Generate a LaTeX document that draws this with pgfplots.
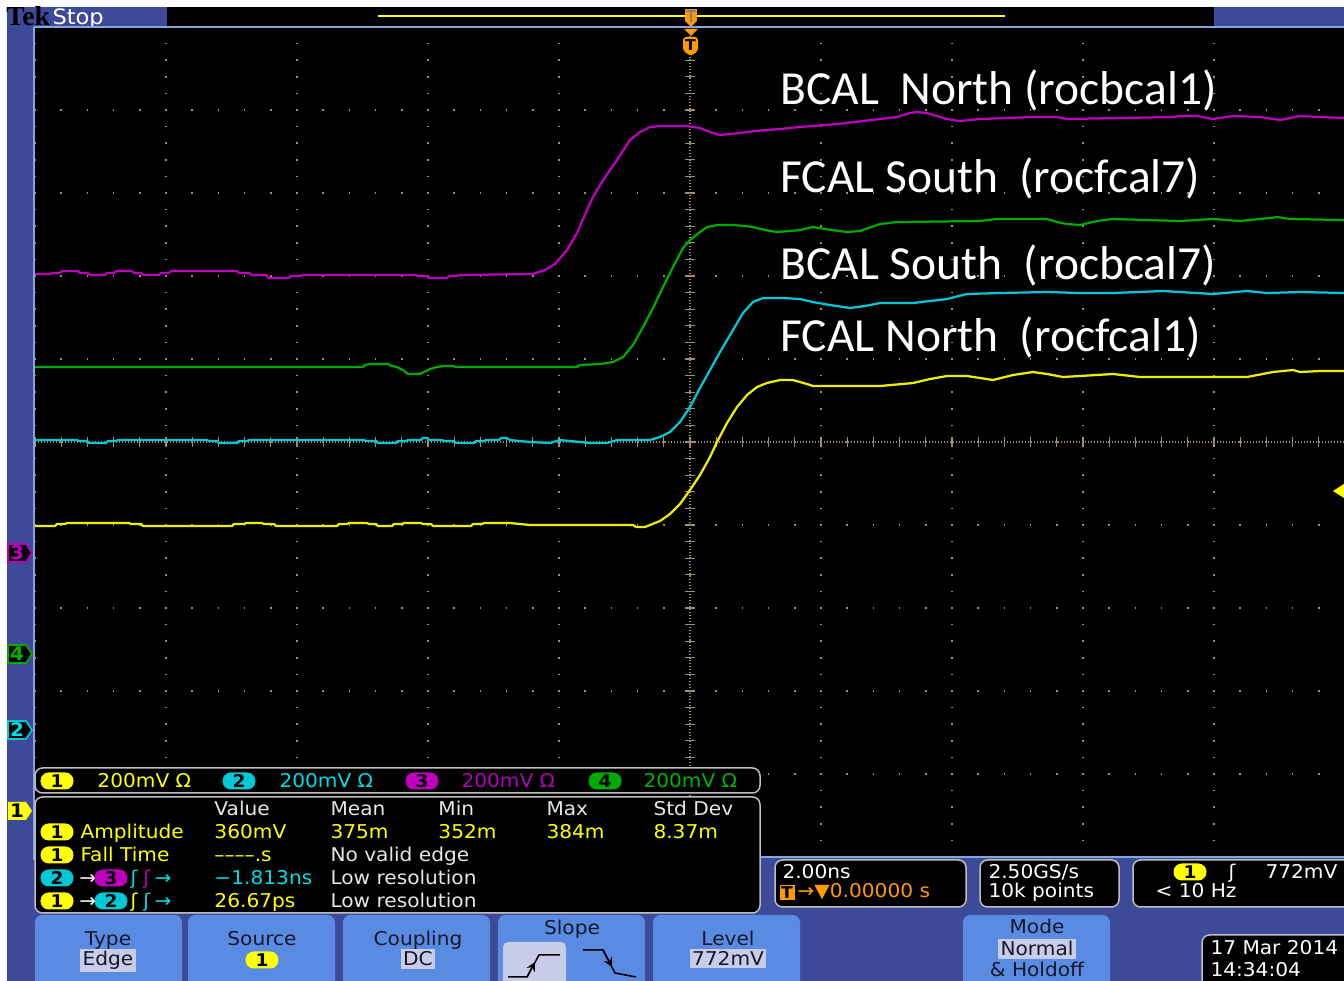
\documentclass[border=0pt]{standalone}
\usepackage{pgfplots}
\pgfplotsset{compat=1.18}
\usepackage{fontspec}
\newfontfamily\tekf[FakeStretch=1.06]{DejaVu Sans}
\newfontfamily\calf{Carlito}
\newfontfamily\serf{Liberation Serif}
\definecolor{tekblue}{HTML}{3D4A9A}
\definecolor{framelb}{HTML}{86A6DA}
\definecolor{btnblue}{HTML}{5A8BE2}
\definecolor{btnhi}{HTML}{C8CCE8}
\definecolor{btntxt}{HTML}{15182A}
\definecolor{ch1}{HTML}{EEEE00}
\definecolor{ch2}{HTML}{00C8D7}
\definecolor{ch3}{HTML}{BE00BE}
\definecolor{ch4}{HTML}{00AA00}
\definecolor{ch1t}{HTML}{FFFF00}
\definecolor{ch2t}{HTML}{00DCE6}
\definecolor{ch3t}{HTML}{B400B4}
\definecolor{ch4t}{HTML}{00B400}
\definecolor{gridc}{HTML}{9C9070}
\definecolor{tekorange}{HTML}{FF9A00}
\definecolor{hdr}{HTML}{E6E6E6}
\definecolor{panelgray}{HTML}{BEBEBE}
\tikzset{
 tt/.style={anchor=base west, inner sep=0pt, font=\tekf\fontsize{7.6}{9}\selectfont},
 tc/.style={anchor=base, inner sep=0pt, font=\tekf\fontsize{7.6}{9}\selectfont, text=btntxt},
 badge/.style={fill=#1, rounded corners=3.3pt, minimum width=13.2pt, minimum height=6.8pt, inner sep=0pt, text=black, font=\tekf\bfseries\fontsize{7}{8}\selectfont},
 panel/.style={fill=black, draw=panelgray, line width=0.6pt, rounded corners=3pt},
 btn/.style={fill=btnblue, rounded corners=3pt},
 hi/.style={tc, fill=btnhi, inner xsep=1pt, inner ysep=1pt},
 lbl/.style={anchor=base west, inner sep=0pt, text=white, font=\calf\fontsize{19}{21}\selectfont},
}
\begin{document}
\begin{tikzpicture}
\useasboundingbox (0,0) rectangle (537.6pt,-392.4pt);
\clip (0,0) rectangle (537.6pt,-392.4pt);
\begin{scope}[x=0.4pt,y=-0.4pt]
 \fill[white] (0,0) rectangle (1344,981);
 \fill[tekblue] (7,7) rectangle (1344,981);
 % top bar
 \fill[black] (167,7) rectangle (1214,26);
 \draw[ch1t, line width=0.7pt] (378,16) -- (1005,16);
 \node[anchor=base west, inner sep=0pt, font=\serf\bfseries\fontsize{11}{12}\selectfont, text=black] at (6,26) {Tek};
 \node[anchor=base west, inner sep=0pt, font=\tekf\fontsize{8.5}{10}\selectfont, text=white] at (52,25) {Stop};
 \fill[tekorange] (685,9) rectangle (697,21);
 \fill[tekorange] (685,21) -- (697,21) -- (691,27) -- cycle;
 \draw[gray, line width=0.8pt] (691,11) -- (691,22);
 \draw[gray, line width=0.8pt] (686,11) -- (696,11);
 % graticule background
 \fill[black] (35,27) rectangle (1345,857);
 \draw[gridc, line width=0.6pt, dash pattern=on 0.5pt off 0.7pt] (690,27) -- (690,857);
 \draw[gridc, line width=0.6pt, dash pattern=on 0.5pt off 0.7pt] (35,442) -- (1345,442);
 \foreach \k in {0,...,50} { \draw[gridc, line width=0.5pt] (685,27+16.6*\k) -- (695,27+16.6*\k); }
 \foreach \k in {0,...,50} { \draw[gridc, line width=0.5pt] (35+26.2*\k,437) -- (35+26.2*\k,447); }
\end{scope}
\begin{axis}[
 at={(14pt,-342.8pt)}, anchor=south west,
 scale only axis, width=524pt, height=332pt,
 xmin=35, xmax=1345, ymin=27, ymax=857, y dir=reverse,
 axis line style={draw=none},
 xtick={35,166,...,1345}, ytick={27,110,...,857},
 xticklabels={}, yticklabels={},
 tick style={draw=none}, major tick length=0pt,
 grid=major,
 major x grid style={gridc, line width=0.7pt, dash pattern=on 0.7pt off 5.94pt, dash phase=0.35pt},
 major y grid style={gridc, line width=0.7pt, dash pattern=on 0.7pt off 9.78pt, dash phase=0.35pt},
 every axis plot/.append style={line width=0.9pt, line join=round},
 clip=true,
]
% Channel 3 (magenta) - BCAL North
\addplot[ch3] coordinates {
(35,274) (50,274) (52,273) (60,273) (62,271) (78,271) (80,273) (88,273) (90,275) (105,275) (107,273) (114,273) (116,271) (132,271) (134,273) (141,273) (143,275) (159,275) (161,273) (169,273) (171,271) (237,271) (239,273) (249,273) (252,275) (266,275) (269,278) (289,278) (291,276) (301,276) (303,275) (416,275) (418,276) (427,276) (429,278) (447,278) (449,276) (457,276) (459,275) (533,274) (545,270) (555,264) (567,250) (577,233) (587,210) (593,197) (600,185) (610,170) (617,160) (630,140) (640,132) (650,127) (660,126) (687,126) (700,128) (710,132) (720,135) (730,134) (740,133) (755,131) (767,130) (780,129) (800,127) (837,124) (863,121) (897,117) (910,113) (917,112) (927,113) (937,116) (947,119) (960,121) (980,119) (1033,117) (1057,117) (1067,119) (1173,117) (1180,116) (1197,116) (1213,119) (1233,116) (1260,117) (1280,120) (1300,116) (1320,117) (1345,118)
};
% Channel 4 (green) - FCAL South
\addplot[ch4] coordinates {
(35,367) (363,367) (365,365) (370,364) (388,364) (392,366) (397,367) (403,370) (408,374) (420,374) (424,372) (430,369) (437,367) (443,366) (453,366) (456,367) (577,367) (580,365) (600,364) (613,362) (623,357) (633,345) (643,327) (653,308) (663,287) (673,267) (683,248) (690,240) (700,232) (707,227) (717,225) (733,225) (745,226) (753,227) (765,230) (777,232) (790,231) (800,230) (813,227) (825,229) (847,232) (860,231) (880,224) (897,222) (980,221) (997,219) (1047,219) (1057,222) (1067,224) (1080,225) (1097,221) (1113,219) (1180,221) (1213,219) (1240,221) (1270,218) (1277,217) (1290,219) (1345,220)
};
% Channel 2 (cyan) - BCAL South
\addplot[ch2] coordinates {
(35,440) (77,440) (79,441) (87,441) (89,443) (106,443) (108,441) (116,441) (118,440) (207,440) (209,441) (217,441) (219,443) (237,443) (239,441) (247,441) (249,440) (364,440) (366,441) (376,441) (378,443) (396,443) (398,441) (406,441) (408,440) (421,440) (423,438) (427,438) (429,440) (442,440) (444,441) (454,441) (456,443) (474,443) (476,441) (484,441) (486,440) (499,440) (501,438) (507,438) (510,440) (530,442) (550,443) (560,440) (590,443) (607,443) (617,440) (650,440) (660,437) (670,432) (680,422) (690,407) (700,388) (710,370) (720,352) (733,330) (743,313) (753,302) (763,298) (783,298) (800,299) (813,302) (830,305) (850,308) (865,306) (880,303) (913,303) (947,299) (967,294) (1000,293) (1047,292) (1080,293) (1113,293) (1163,291) (1197,293) (1213,294) (1247,291) (1267,293) (1300,292) (1345,293)
};
% Channel 1 (yellow) - FCAL North
\addplot[ch1] coordinates {
(35,526) (55,526) (57,524) (65,524) (67,523) (129,523) (131,524) (141,524) (143,526) (232,526) (234,524) (244,524) (246,523) (262,523) (264,524) (274,524) (276,526) (337,526) (339,524) (347,524) (349,523) (367,523) (369,524) (376,524) (378,526) (392,526) (394,524) (402,524) (404,523) (421,523) (423,524) (431,524) (433,526) (471,526) (473,524) (482,524) (484,523) (510,523) (530,525) (600,525) (633,525) (636,527) (645,527) (650,525) (660,521) (670,514) (680,504) (690,490) (700,475) (710,457) (717,442) (727,423) (737,407) (747,395) (757,387) (767,383) (780,380) (793,380) (807,384) (813,386) (880,386) (913,383) (930,379) (947,376) (967,376) (980,378) (993,380) (1013,375) (1033,372) (1047,374) (1063,377) (1113,374) (1140,377) (1247,377) (1273,372) (1293,370) (1300,372) (1320,371) (1345,371)
};
\end{axis}
\begin{scope}[x=0.4pt,y=-0.4pt]
 % frame lines
 \draw[framelb, line width=0.8pt] (34,27) -- (1344,27);
 \draw[framelb, line width=0.8pt] (34,27) -- (34,860);
 \draw[framelb, line width=0.8pt] (760,857) -- (1344,857);
 % trigger position marker
 \fill[tekorange] (684,29) -- (698,29) -- (691,36) -- cycle;
 \fill[tekorange, rounded corners=1.2pt] (683,37) -- (698,37) -- (698,51) -- (691,56) -- (683,51) -- cycle;
 \node[inner sep=0pt, font=\tekf\bfseries\fontsize{6}{7}\selectfont, text=black] at (690.5,45) {T};
 % trigger level arrow
 \fill[ch1t] (1333,491) -- (1344,484) -- (1344,498) -- cycle;
 % ground markers
 \draw[ch3, fill=black, line width=0.7pt] (8,544) -- (26,544) -- (32,553) -- (26,562) -- (8,562) -- cycle;
 \node[inner sep=0pt, text=ch3, font=\tekf\bfseries\fontsize{7.5}{8}\selectfont] at (17,553) {3};
 \draw[ch4, fill=black, line width=0.7pt] (8,645) -- (26,645) -- (32,654) -- (26,663) -- (8,663) -- cycle;
 \node[inner sep=0pt, text=ch4t, font=\tekf\bfseries\fontsize{7.5}{8}\selectfont] at (17,654) {4};
 \draw[ch2, fill=black, line width=0.7pt] (8,721) -- (26,721) -- (32,730) -- (26,739) -- (8,739) -- cycle;
 \node[inner sep=0pt, text=ch2t, font=\tekf\bfseries\fontsize{7.5}{8}\selectfont] at (17,730) {2};
 \fill[ch1t] (8,802) -- (26,802) -- (32,811) -- (26,820) -- (8,820) -- cycle;
 \node[inner sep=0pt, text=black, font=\tekf\bfseries\fontsize{7.5}{8}\selectfont] at (17,811) {1};
 % trace labels
 \node[lbl] at (780,105) {BCAL\ \ North (rocbcal1)};
 \node[lbl] at (780,193) {FCAL South\ \ (rocfcal7)};
 \node[lbl] at (780,280) {BCAL South\ \ (rocbcal7)};
 \node[lbl] at (780,352) {FCAL North\ \ (rocfcal1)};
 % channel scale bar
 \draw[panel] (35,768) rectangle (760,793);
 \node[badge=ch1t] at (57,781) {1};
 \node[tt, text=ch1t] at (97,788) {200mV Ω};
 \node[badge=ch2] at (239,781) {2};
 \node[tt, text=ch2t] at (279,788) {200mV Ω};
 \node[badge=ch3] at (422,781) {3};
 \node[tt, text=ch3t] at (461,788) {200mV Ω};
 \node[badge=ch4] at (605,781) {4};
 \node[tt, text=ch4t] at (643,788) {200mV Ω};
 % measurement panel
 \draw[panel] (35,797) rectangle (760,913);
 \node[tt, text=hdr] at (214,816) {Value};
 \node[tt, text=hdr] at (330,816) {Mean};
 \node[tt, text=hdr] at (438,816) {Min};
 \node[tt, text=hdr] at (546,816) {Max};
 \node[tt, text=hdr] at (653,816) {Std Dev};
 \node[badge=ch1t] at (57,832) {1};
 \node[tt, text=ch1t] at (80,839) {Amplitude};
 \node[tt, text=ch1t] at (214,839) {360mV};
 \node[tt, text=ch1t] at (330,839) {375m};
 \node[tt, text=ch1t] at (438,839) {352m};
 \node[tt, text=ch1t] at (546,839) {384m};
 \node[tt, text=ch1t] at (653,839) {8.37m};
 \node[badge=ch1t] at (57,855) {1};
 \node[tt, text=ch1t] at (80,862) {Fall Time};
 \node[tt, text=ch1t] at (214,862) {––––.s};
 \node[tt, text=hdr] at (330,862) {No valid edge};
 \node[badge=ch2] at (57,878) {2};
 \node[tt, text=white] at (79,885) {→};
 \node[badge=ch3] at (111,878) {3};
 \node[tt, text=ch2t] at (130,885) {ʃ};
 \node[tt, text=ch3t] at (143,885) {ʃ};
 \node[tt, text=ch2t] at (154,885) {→};
 \node[tt, text=ch2t] at (214,885) {−1.813ns};
 \node[tt, text=hdr] at (330,885) {Low resolution};
 \node[badge=ch1t] at (57,901) {1};
 \node[tt, text=white] at (79,908) {→};
 \node[badge=ch2] at (111,901) {2};
 \node[tt, text=ch1t] at (130,908) {ʃ};
 \node[tt, text=ch2t] at (143,908) {ʃ};
 \node[tt, text=ch2t] at (154,908) {→};
 \node[tt, text=ch1t] at (214,908) {26.67ps};
 \node[tt, text=hdr] at (330,908) {Low resolution};
 % horizontal readouts
 \draw[panel] (775,860) rectangle (966,907);
 \node[tt, text=white] at (782,879) {2.00ns};
 \node[fill=tekorange, minimum width=6pt, minimum height=6pt, inner sep=0pt, font=\tekf\bfseries\fontsize{6.5}{7}\selectfont, text=black] at (787,893) {T};
 \node[tt, text=tekorange] at (797,898) {→▼0.00000 s};
 \draw[panel] (980,860) rectangle (1119,907);
 \node[tt, text=white] at (988,879) {2.50GS/s};
 \node[tt, text=white] at (988,898) {10k points};
 \draw[panel] (1133,860) rectangle (1360,907);
 \node[badge=ch1t] at (1190,872) {1};
 \node[tt, text=white] at (1228,879) {ʃ};
 \node[tt, text=white] at (1265,879) {772mV};
 \node[tt, text=white] at (1155,898) {< 10 Hz};
 % buttons
 \fill[btn] (35,915) rectangle (182,995);
 \node[tc] at (108,946) {Type};
 \node[hi] at (108,966) {Edge};
 \fill[btn] (188,915) rectangle (335,995);
 \node[tc] at (262,946) {Source};
 \node[badge=ch1t] at (262,960) {1};
 \fill[btn] (343,915) rectangle (490,995);
 \node[tc] at (418,946) {Coupling};
 \node[hi] at (418,966) {DC};
 \fill[btn] (498,915) rectangle (645,995);
 \node[tc] at (572,935) {Slope};
 \fill[btnhi, rounded corners=2pt] (503,942) rectangle (566,995);
 \draw[black, line width=0.6pt] (508,977) -- (527,977) -- (539,955) -- (560,955);
 \draw[black, line width=0.6pt, -stealth] (527,977) -- (535,962);
 \draw[black, line width=0.6pt] (583,950) -- (603,950) -- (615,973) -- (636,977);
 \draw[black, line width=0.6pt, -stealth] (603,950) -- (612,967);
 \fill[btn] (653,915) rectangle (800,995);
 \node[tc] at (728,946) {Level};
 \node[hi] at (728,966) {772mV};
 \fill[btn] (963,915) rectangle (1110,995);
 \node[tc] at (1037,934) {Mode};
 \node[hi] at (1037,956) {Normal};
 \node[tc] at (1037,977) {\& Holdoff};
 % date
 \draw[panel] (1202,935) rectangle (1360,995);
 \node[tt, text=white] at (1210,955) {17 Mar 2014};
 \node[tt, text=white] at (1210,977) {14:34:04};
\end{scope}
\end{tikzpicture}
\end{document}
